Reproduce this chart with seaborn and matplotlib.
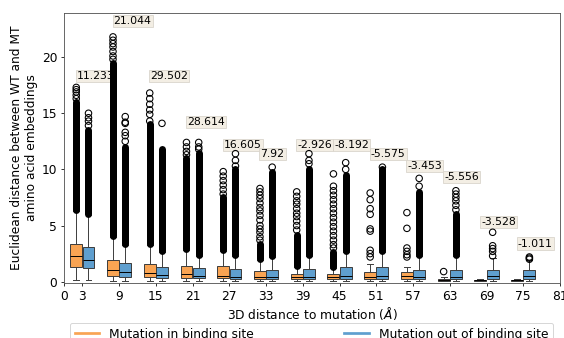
import numpy as np
import pandas as pd
import matplotlib
matplotlib.use("Agg")
import matplotlib.pyplot as plt
from matplotlib.lines import Line2D
import seaborn as sns

# ---------------- data ----------------
distances = [3, 9, 15, 21, 27, 33, 39, 45, 51, 57, 63, 69, 75]
x_ticks = [0, 3, 9, 15, 21, 27, 33, 39, 45, 51, 57, 63, 69, 75, 81]
site_names = ["Mutation in binding site", "Mutation out of binding site"]

# five-number summaries: [lower whisker, Q1, median, Q3, upper whisker]
in_site_box = [
    [0.18, 1.34, 2.26, 3.40, 6.30],
    [0.10, 0.47, 1.00, 1.96, 4.00],
    [0.08, 0.38, 0.74, 1.58, 3.30],
    [0.07, 0.33, 0.66, 1.42, 2.80],
    [0.07, 0.30, 0.50, 1.37, 2.70],
    [0.06, 0.27, 0.42, 0.92, 1.90],
    [0.06, 0.28, 0.45, 0.69, 1.30],
    [0.05, 0.25, 0.45, 0.65, 1.20],
    [0.05, 0.20, 0.45, 0.87, 1.55],
    [0.05, 0.24, 0.50, 0.89, 1.28],
    [0.03, 0.10, 0.15, 0.25, 0.40],
    [0.05, 0.10, 0.12, 0.15, 0.20],
    [0.05, 0.10, 0.12, 0.15, 0.20],
]
out_site_box = [
    [0.15, 1.22, 1.94, 3.10, 5.90],
    [0.10, 0.45, 0.83, 1.63, 3.30],
    [0.08, 0.30, 0.60, 1.31, 2.60],
    [0.07, 0.30, 0.52, 1.18, 2.30],
    [0.06, 0.28, 0.45, 1.16, 2.30],
    [0.06, 0.27, 0.42, 1.07, 2.20],
    [0.05, 0.24, 0.45, 1.13, 2.30],
    [0.05, 0.27, 0.50, 1.28, 2.60],
    [0.05, 0.27, 0.50, 1.28, 2.60],
    [0.05, 0.24, 0.45, 1.07, 2.30],
    [0.05, 0.24, 0.45, 1.07, 2.30],
    [0.05, 0.24, 0.50, 1.07, 2.10],
    [0.05, 0.24, 0.50, 1.00, 1.90],
]

# ranges where outliers are so dense they merge into a solid column (lo, hi)
in_site_dense = [(6.4, 16.0), (4.1, 19.5), (3.4, 14.0), (2.9, 11.0), (2.8, 7.5),
                 (2.0, 3.4), (1.4, 4.2), (1.3, 2.6), None, None, None, None, None]
out_site_dense = [(6.0, 13.5), (3.4, 12.0), (2.7, 11.8), (2.4, 11.5), (2.4, 10.0),
                  (2.3, 9.8), (2.4, 10.0), (2.7, 9.5), (2.7, 10.0), (2.4, 8.0),
                  (2.4, 6.0), None, None]

# individually visible outliers
in_site_outliers = [
    [16.3, 16.6, 16.9, 17.1, 17.3],
    [19.8, 20.1, 20.5, 20.9, 21.2, 21.5, 21.8],
    [14.3, 14.9, 15.3, 15.8, 16.3, 16.8],
    [11.3, 11.6, 12.0, 12.4],
    [7.8, 8.2, 8.6, 9.0, 9.4, 9.8],
    [3.7, 4.0, 4.4, 4.7, 5.0, 5.5, 5.9, 6.3, 6.6, 7.0, 7.4, 7.7, 8.0, 8.3],
    [4.6, 5.0, 5.4, 5.8, 6.1, 6.5, 6.9, 7.2, 7.6, 8.0],
    [3.0, 3.3, 3.7, 4.1, 4.5, 4.9, 5.3, 5.7, 6.1, 6.5, 6.9, 7.3, 7.7, 8.1, 8.5, 9.6],
    [2.2, 2.5, 2.8, 4.5, 4.7, 6.0, 6.5, 7.3, 7.9],
    [2.2, 2.4, 2.7, 3.0, 4.75, 6.15],
    [0.9],
    [],
    [],
]
out_site_outliers = [
    [13.9, 14.3, 14.6, 15.0],
    [12.5, 13.0, 13.3, 14.1, 14.2, 14.7],
    [14.1],
    [11.8, 12.0, 12.4],
    [10.3, 10.8, 11.4],
    [10.2],
    [10.5, 10.8, 11.4],
    [10.0, 10.6],
    [10.2],
    [8.5, 9.2],
    [6.4, 6.8, 7.2, 7.5, 7.8, 8.1],
    [2.3, 2.7, 2.95, 3.2, 4.4],
    [2.0, 2.1, 2.2],
]

delta_labels = ["11.233", "21.044", "29.502", "28.614", "16.605", "7.92", "-2.926",
                "-8.192", "-5.575", "-3.453", "-5.556", "-3.528", "-1.011"]
label_heights = [18.3, 23.2, 18.3, 14.2, 12.2, 11.4, 12.2, 12.2, 11.4, 10.3, 9.35, 5.35, 3.4]

# ---------------- styling ----------------
colors = {site_names[0]: "#f9a453", site_names[1]: "#5f9fcf"}
box_width = 2 / 3          # relative to the spacing of the distances
line_color = "#3c3c3c"
font_main = 12.6
font_note = 11.2

rows = []
for d, bi, bo in zip(distances, in_site_box, out_site_box):
    for v in bi:
        rows.append({"distance": d, "value": v, "site": site_names[0]})
    for v in bo:
        rows.append({"distance": d, "value": v, "site": site_names[1]})
df_box = pd.DataFrame(rows)

fig = plt.figure(figsize=(564 / 70, 338 / 70), dpi=70)
ax = fig.add_axes([64 / 564, 1 - 282.7 / 338, 496 / 564, 269.4 / 338])

sns.boxplot(data=df_box, x="distance", y="value", hue="site", hue_order=site_names,
            palette=colors, native_scale=True, width=box_width, gap=0.03,
            whis=(0, 100), saturation=1, linecolor=line_color, linewidth=1,
            showfliers=False, legend=False, ax=ax,
            medianprops=dict(color="black", linewidth=1))

# dodge offsets of the two hue levels (same rule seaborn uses)
spacing = np.min(np.diff(distances))
offsets = [-box_width * spacing / 4, box_width * spacing / 4]

# dense outlier columns
for dense_list, off in zip([in_site_dense, out_site_dense], offsets):
    xs, los, his = [], [], []
    for d, rng in zip(distances, dense_list):
        if rng is None:
            continue
        xs.append(d + off)
        los.append(rng[0])
        his.append(rng[1])
    lc = ax.vlines(xs, los, his, colors="black", linewidth=7.2, zorder=2.5)
    lc.set_capstyle("round")

# individual outliers
out_rows = []
for out_list, off in zip([in_site_outliers, out_site_outliers], offsets):
    for d, vals in zip(distances, out_list):
        for v in vals:
            out_rows.append({"x": d + off, "value": v})
df_out = pd.DataFrame(out_rows)
sns.scatterplot(data=df_out, x="x", y="value", marker="o", s=44,
                facecolors="none", edgecolors="black", linewidth=1.1,
                legend=False, ax=ax, zorder=2.6)

# delta annotations
for d, lab, h in zip(distances, delta_labels, label_heights):
    ax.text(d - 0.9, h, lab, ha="left", va="center", fontsize=font_note, zorder=1.8,
            bbox=dict(boxstyle="square,pad=0.1", facecolor="#f3eee4",
                      edgecolor="#d8d3ca", linewidth=0.8))

ax.set_xlim(0, 81)
ax.set_ylim(-0.09, 23.9)
ax.set_xticks(x_ticks)
ax.set_xticklabels([str(t) for t in x_ticks])
ax.set_yticks([0, 5, 10, 15, 20])
ax.set_xlabel(r"3D distance to mutation ($Å$)", fontsize=font_main, labelpad=3)
ax.set_ylabel("Euclidean distance between WT and MT\namino acid embeddings",
              fontsize=font_main, labelpad=4)
ax.tick_params(labelsize=font_main)
for sp in ax.spines.values():
    sp.set_visible(True)
    sp.set_color("#555555")
    sp.set_linewidth(0.9)

handles = [Line2D([0], [0], color=colors[s], linewidth=2.8) for s in site_names]
ax.legend(handles, site_names, loc="upper left",
          bbox_to_anchor=(6 / 496, -40 / 269.4, 483 / 496, 0), mode="expand",
          ncol=2, borderaxespad=0, fontsize=font_main, frameon=True)

fig.savefig("out.png", dpi=70)
